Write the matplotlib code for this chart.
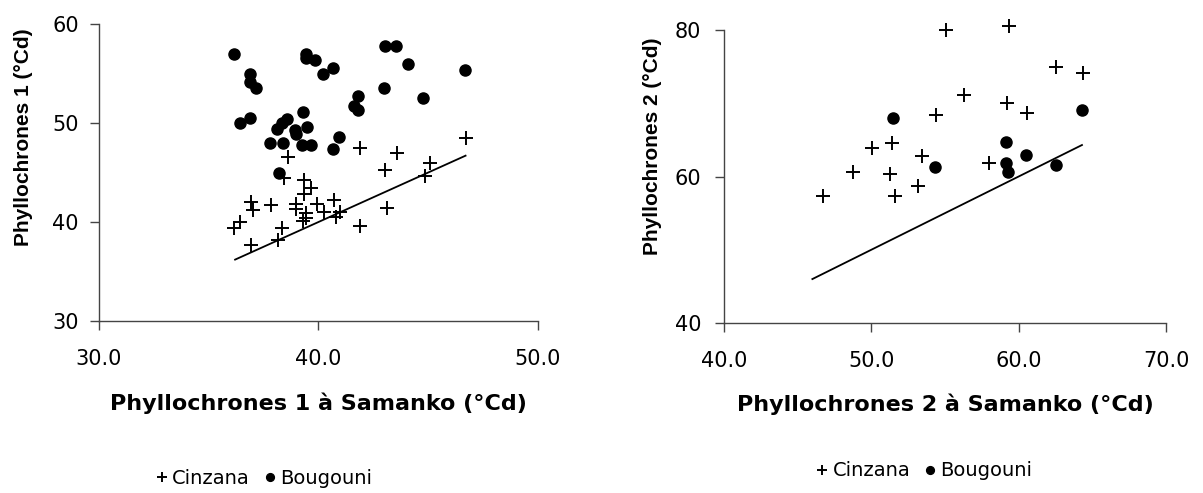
import matplotlib.pyplot as plt

plt.rcParams["font.family"] = ["DejaVu Sans"]

# Phyllochrone 1: Samanko (x) vs other sites (y)
cinz1_x = [46.72, 41.87, 43.58, 38.63, 43.04, 45.08, 44.84, 38.45, 39.33, 39.67,
           39.36, 40.70, 36.92, 37.83, 37.03, 38.97, 38.98, 39.94, 40.24, 39.44,
           39.44, 40.80, 40.99, 39.29, 43.14, 36.43, 36.16, 38.35, 41.87, 36.92,
           38.16]
cinz1_y = [48.45, 47.47, 47.00, 46.60, 45.22, 45.93, 44.68, 44.41, 44.24, 43.40,
           42.79, 42.19, 42.05, 41.68, 41.21, 41.82, 41.28, 41.82, 41.04, 40.88,
           40.37, 40.54, 40.98, 40.10, 41.41, 40.03, 39.36, 39.36, 39.60, 37.64,
           38.18]
boug1_x = [36.13, 39.41, 39.41, 39.83, 40.65, 40.20, 36.86, 36.86, 37.13, 43.05,
           43.54, 44.07, 46.68, 42.97, 41.82, 41.64, 41.82, 44.78, 36.42, 36.87,
           39.29, 38.57, 38.33, 38.12, 38.92, 38.98, 39.47, 40.93, 37.77, 38.39,
           39.27, 39.67, 40.65, 38.22]
boug1_y = [56.94, 56.94, 56.53, 56.33, 55.52, 54.95, 54.98, 54.18, 53.57, 57.78,
           57.78, 55.96, 55.35, 53.54, 52.73, 51.75, 51.31, 52.53, 49.97, 50.54,
           51.14, 50.37, 49.97, 49.36, 49.29, 48.89, 49.56, 48.55, 47.95, 47.95,
           47.74, 47.74, 47.34, 44.98]
line1 = [36.2, 46.7]

# Phyllochrone 2
cinz2_x = [55.06, 59.36, 62.57, 64.38, 56.28, 59.22, 60.58, 54.38, 51.39, 50.07,
           53.45, 48.74, 51.30, 58.02, 53.18, 51.59, 46.72]
cinz2_y = [80.00, 80.59, 74.90, 74.08, 71.07, 70.07, 68.66, 68.34, 64.60, 63.83,
           62.78, 60.55, 60.32, 61.91, 58.68, 57.31, 57.31]
boug2_x = [51.48, 64.29, 59.13, 54.33, 60.51, 59.15, 59.29, 62.53]
boug2_y = [68.02, 69.11, 64.74, 61.28, 62.92, 61.78, 60.68, 61.55]
line2 = [46.0, 64.3]

fig = plt.figure(figsize=(12.03, 4.93), dpi=100)
ax1 = fig.add_axes([0.0823, 0.3489, 0.3649, 0.6024])
ax2 = fig.add_axes([0.6018, 0.3448, 0.3674, 0.5943])


def style(ax, xlim, ylim, xticks, yticks, xlabel, ylabel, ypad):
    ax.set_xlim(*xlim)
    ax.set_ylim(*ylim)
    ax.set_xticks(xticks)
    ax.set_xticklabels([f"{t:.1f}" for t in xticks])
    ax.set_yticks(yticks)
    ax.set_yticklabels([f"{t}" for t in yticks])
    for s in ["top", "right"]:
        ax.spines[s].set_visible(False)
    for s in ["left", "bottom"]:
        ax.spines[s].set_color("#444444")
        ax.spines[s].set_linewidth(1.0)
    ax.tick_params(direction="out", length=6.5, width=1, color="#444444",
                   labelsize=15)
    ax.tick_params(axis="x", pad=14)
    ax.tick_params(axis="y", pad=ypad)
    ax.set_xlabel(xlabel, fontsize=16, fontweight="bold")
    ax.set_ylabel(ylabel, fontsize=15, fontweight="bold",
                  family=["Liberation Sans"])


for ax, cx, cy, bx, by, ln in [(ax1, cinz1_x, cinz1_y, boug1_x, boug1_y, line1),
                               (ax2, cinz2_x, cinz2_y, boug2_x, boug2_y, line2)]:
    ax.plot(cx, cy, "+", color="black", markersize=9.5, markeredgewidth=1.4,
            linestyle="none", label="Cinzana", clip_on=False)
    ax.plot(bx, by, "o", color="black", markersize=8, linestyle="none",
            label="Bougouni", clip_on=False)
    ax.plot(ln, ln, color="black", linewidth=1.3)

style(ax1, (30, 50), (30, 60), [30.0, 40.0, 50.0], [30, 40, 50, 60],
      "Phyllochrones 1 à Samanko (°Cd)", "Phyllochrones 1 (°Cd)", 8)
style(ax2, (40, 70), (40, 80), [40.0, 50.0, 60.0, 70.0], [40, 60, 80],
      "Phyllochrones 2 à Samanko (°Cd)", "Phyllochrones 2 (°Cd)", 10)

ax1.xaxis.set_label_coords(0.5, -0.242)
ax2.xaxis.set_label_coords(0.5, -0.242)
ax1.yaxis.set_label_coords(-0.150, 0.62)
ax2.yaxis.set_label_coords(-0.140, 0.605)

for ax, pos in [(ax1, (0.378, -0.53)), (ax2, (0.455, -0.505))]:
    ax.legend(loc="center", bbox_to_anchor=pos, ncol=2, frameon=False,
              fontsize=14, handlelength=0.45, handletextpad=0.3,
              columnspacing=0.8, markerscale=0.7, borderpad=0)

fig.savefig("out.png", dpi=100)
